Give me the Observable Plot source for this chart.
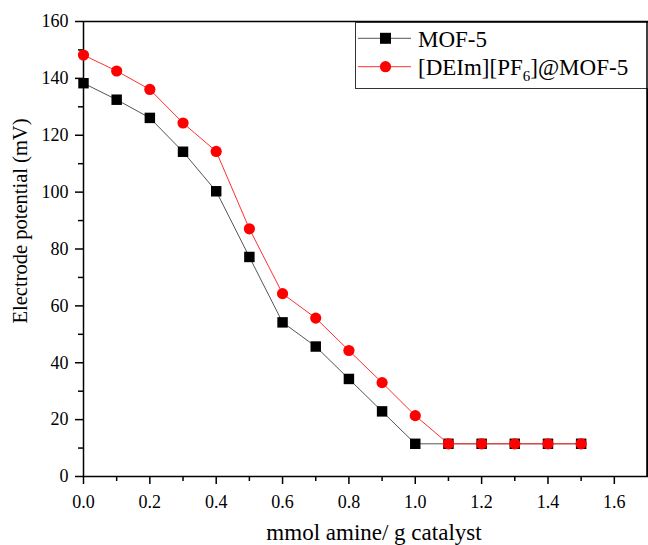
<!DOCTYPE html>
<html>
<head>
<meta charset="utf-8">
<script src="https://cdn.jsdelivr.net/npm/d3@7"></script>
<script src="https://cdn.jsdelivr.net/npm/@observablehq/plot@0.6"></script>
<style>
  html, body { margin: 0; padding: 0; background: #fff; }
  #chart { width: 648px; height: 545px; }
  #chart svg, #chart svg text { font-family: 'Liberation Serif', 'Times New Roman', serif !important; }
</style>
</head>
<body>
<div id="chart"></div>
<script>
const amine = [0.0, 0.1, 0.2, 0.3, 0.4, 0.5, 0.6, 0.7, 0.8, 0.9, 1.0, 1.1, 1.2, 1.3, 1.4, 1.5];
const mof5 = [138.3, 132.5, 126.1, 114.2, 100.3, 77.2, 54.2, 45.7, 34.3, 22.9, 11.5, 11.5, 11.5, 11.5, 11.5, 11.5];
const ilMof5 = [148.2, 142.6, 136.1, 124.3, 114.3, 87.1, 64.3, 55.7, 44.3, 33.0, 21.4, 11.5, 11.5, 11.5, 11.5, 11.5];
const seriesNames = ["MOF-5", "[DEIm][PF6]@MOF-5"];
const xMajor = [0, 0.2, 0.4, 0.6, 0.8, 1.0, 1.2, 1.4, 1.6];
const xMinor = [0.1, 0.3, 0.5, 0.7, 0.9, 1.1, 1.3, 1.5];
const yMajor = [0, 20, 40, 60, 80, 100, 120, 140, 160];
const yMinor = [10, 30, 50, 70, 90, 110, 130, 150];
const xTitle = "mmol amine/ g catalyst";
const yTitle = "Electrode potential (mV)";

const dataA = amine.map((x, i) => ({x, y: mof5[i]}));
const dataB = amine.map((x, i) => ({x, y: ilMof5[i]}));

const W = 648, H = 545;
const mL = 83, mT = 21, mR = 1, mB = 69;
const font = "'Liberation Serif', 'Times New Roman', serif";

const plot = Plot.plot({
  width: W,
  height: H,
  marginLeft: mL,
  marginTop: mT,
  marginRight: mR,
  marginBottom: mB,
  style: {fontFamily: font, fontSize: "18px", color: "#000", background: "#fff"},
  x: {domain: [0, 1.7]},
  y: {domain: [0, 160]},
  marks: [
    Plot.frame({stroke: "#000", strokeWidth: 1.5}),
    Plot.axisX({ticks: xMajor, tickSize: 8, tickPadding: 11, tickFormat: d3.format(".1f"), label: null, fontSize: 18, strokeWidth: 1.5}),
    Plot.axisX({ticks: xMinor, tickSize: 5, tickFormat: () => "", label: null, strokeWidth: 1.5}),
    Plot.axisY({ticks: yMajor, tickSize: 8, tickPadding: 7, label: null, fontSize: 18, strokeWidth: 1.5}),
    Plot.axisY({ticks: yMinor, tickSize: 5, tickFormat: () => "", label: null, strokeWidth: 1.5}),
    Plot.line(dataA, {x: "x", y: "y", stroke: "#555", strokeWidth: 1}),
    Plot.dot(dataA, {x: "x", y: "y", symbol: "square", r: 5.9, fill: "#000", stroke: "none"}),
    Plot.line(dataB, {x: "x", y: "y", stroke: "#ff3030", strokeWidth: 1}),
    Plot.dot(dataB, {x: "x", y: "y", symbol: "circle", r: 5.6, fill: "#ff0000", stroke: "none"})
  ]
});

document.getElementById("chart").appendChild(plot);

const svg = d3.select(plot);
svg.attr("font-family", font).style("font-family", font);
svg.selectAll("g").attr("font-family", font);
svg.selectAll("text").attr("font-family", font).style("font-family", font);

// axis titles
svg.append("text")
  .attr("x", 374)
  .attr("y", 540)
  .attr("text-anchor", "middle")
  .attr("font-family", font)
  .attr("font-size", 23)
  .attr("fill", "#000")
  .text(xTitle);

svg.append("text")
  .attr("transform", `translate(27, 221) rotate(-90)`)
  .attr("text-anchor", "middle")
  .attr("font-family", font)
  .attr("font-size", 20.5)
  .attr("fill", "#000")
  .text(yTitle);

// legend
const lg = svg.append("g");
lg.append("rect")
  .attr("x", 355.5).attr("y", 22.5)
  .attr("width", 300).attr("height", 66)
  .attr("fill", "#fff").attr("stroke", "#333").attr("stroke-width", 1);

const entries = [
  {name: seriesNames[0], line: "#555", fill: "#000", sym: "square", y: 38.3},
  {name: seriesNames[1], line: "#ff3030", fill: "#ff0000", sym: "circle", y: 66.7}
];
entries.forEach(e => {
  lg.append("line")
    .attr("x1", 358).attr("x2", 411).attr("y1", e.y).attr("y2", e.y)
    .attr("stroke", e.line).attr("stroke-width", 1);
  if (e.sym === "square") {
    lg.append("rect").attr("x", 380).attr("y", e.y - 5.5).attr("width", 11).attr("height", 11).attr("fill", e.fill);
  } else {
    lg.append("circle").attr("cx", 385.5).attr("cy", e.y).attr("r", 5.6).attr("fill", e.fill);
  }
  const t = lg.append("text")
    .attr("x", 418).attr("y", e.y + 8.3)
    .attr("text-anchor", "start")
    .attr("font-family", font).attr("font-size", 23).attr("fill", "#000");
  const m = e.name.match(/^(.*PF)(6)(.*)$/);
  if (m) {
    t.append("tspan").text(m[1]);
    t.append("tspan").attr("font-size", 15).attr("dy", 6).text(m[2]);
    t.append("tspan").attr("dy", -6).text(m[3]);
  } else {
    t.text(e.name);
  }
});

// keep frame border on top of legend's right side
svg.append("line")
  .attr("x1", W - mR).attr("x2", W - mR).attr("y1", mT).attr("y2", H - mB)
  .attr("stroke", "#000").attr("stroke-width", 1.5);
</script>
</body>
</html>
